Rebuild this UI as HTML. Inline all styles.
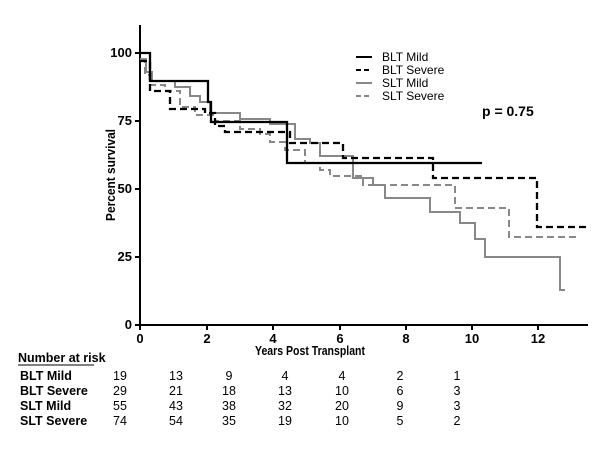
<!DOCTYPE html>
<html><head><style>body{margin:0;background:#fff}svg{display:block}</style></head><body>
<svg width="614" height="449" xmlns="http://www.w3.org/2000/svg" font-family="Liberation Sans, Arial, sans-serif">
<g stroke="#000" stroke-width="2" fill="none">
<path d="M140 25V325H588"/>
<path d="M135 53H140M135 121H140M135 189H140M135 257H140M135 325H140"/>
<path d="M140 325v5M207 325v5M273 325v5M340 325v5M406 325v5M472 325v5M538 325v5"/>
</g>
<g font-size="13" font-weight="bold" text-anchor="end">
<text x="132" y="57">100</text><text x="132" y="125">75</text><text x="132" y="193">50</text><text x="132" y="261">25</text><text x="132" y="329">0</text>
</g>
<g font-size="13" font-weight="bold" text-anchor="middle">
<text x="140" y="343">0</text><text x="207" y="343">2</text><text x="273" y="343">4</text><text x="340" y="343">6</text><text x="406" y="343">8</text><text x="472" y="343">10</text><text x="538" y="343">12</text>
<text x="310" y="355" textLength="110" lengthAdjust="spacingAndGlyphs">Years Post Transplant</text>
<text transform="translate(115,175) rotate(-90)" textLength="92" lengthAdjust="spacingAndGlyphs">Percent survival</text>
</g>
<path fill="none" stroke="#888" stroke-width="2" stroke-dasharray="7,4" d="M140 61H145V75H150V85H165V91H180V107H195V115H215V121H240V129H260V134H270V142H285V150H305V163H320V170H330V176H363V185H455V208H509V237H576"/>
<path fill="none" stroke="#888" stroke-width="2" d="M140 59H146V72H152V81H175V87H190V96H200V102H210V113H240V119H270V124H295V139H310V143H320V156H353V178H373V185H385V198H430V212H460V223H475V239H485V257H560V290H565"/>
<path fill="none" stroke="#000" stroke-width="2.3" stroke-dasharray="7,4" d="M140 61H150V91H170V109H205V113H215V126H225V132H290V143H343V158H433V178H537V227H588"/>
<path fill="none" stroke="#000" stroke-width="2.3" d="M140 53H150V81H208V102H211V122H287V163H482"/>
<g stroke-width="2"><path d="M356 57H372" stroke="#000"/><path d="M356 70H372" stroke="#000" stroke-dasharray="5,3"/><path d="M356 83H372" stroke="#888"/><path d="M356 96H372" stroke="#888" stroke-dasharray="5,3"/></g>
<g font-size="12" fill="#000"><text x="382" y="61">BLT Mild</text><text x="382" y="74">BLT Severe</text><text x="382" y="87">SLT Mild</text><text x="382" y="100">SLT Severe</text></g>
<text x="482" y="116" font-size="14" font-weight="bold">p = 0.75</text>
<text x="18" y="362" font-size="12.5" font-weight="bold">Number at risk</text>
<path d="M18 365H94" stroke="#000" stroke-width="1"/>
<g font-size="12.5" font-weight="bold"><text x="20" y="380">BLT Mild</text><text x="20" y="395">BLT Severe</text><text x="20" y="410">SLT Mild</text><text x="20" y="425">SLT Severe</text></g>
<g font-size="12.5" text-anchor="middle">
<text x="120" y="380">19</text><text x="176" y="380">13</text><text x="229" y="380">9</text><text x="285" y="380">4</text><text x="342" y="380">4</text><text x="400" y="380">2</text><text x="457" y="380">1</text>
<text x="120" y="395">29</text><text x="176" y="395">21</text><text x="229" y="395">18</text><text x="285" y="395">13</text><text x="342" y="395">10</text><text x="400" y="395">6</text><text x="457" y="395">3</text>
<text x="120" y="410">55</text><text x="176" y="410">43</text><text x="229" y="410">38</text><text x="285" y="410">32</text><text x="342" y="410">20</text><text x="400" y="410">9</text><text x="457" y="410">3</text>
<text x="120" y="425">74</text><text x="176" y="425">54</text><text x="229" y="425">35</text><text x="285" y="425">19</text><text x="342" y="425">10</text><text x="400" y="425">5</text><text x="457" y="425">2</text>
</g>
</svg>
</body></html>
